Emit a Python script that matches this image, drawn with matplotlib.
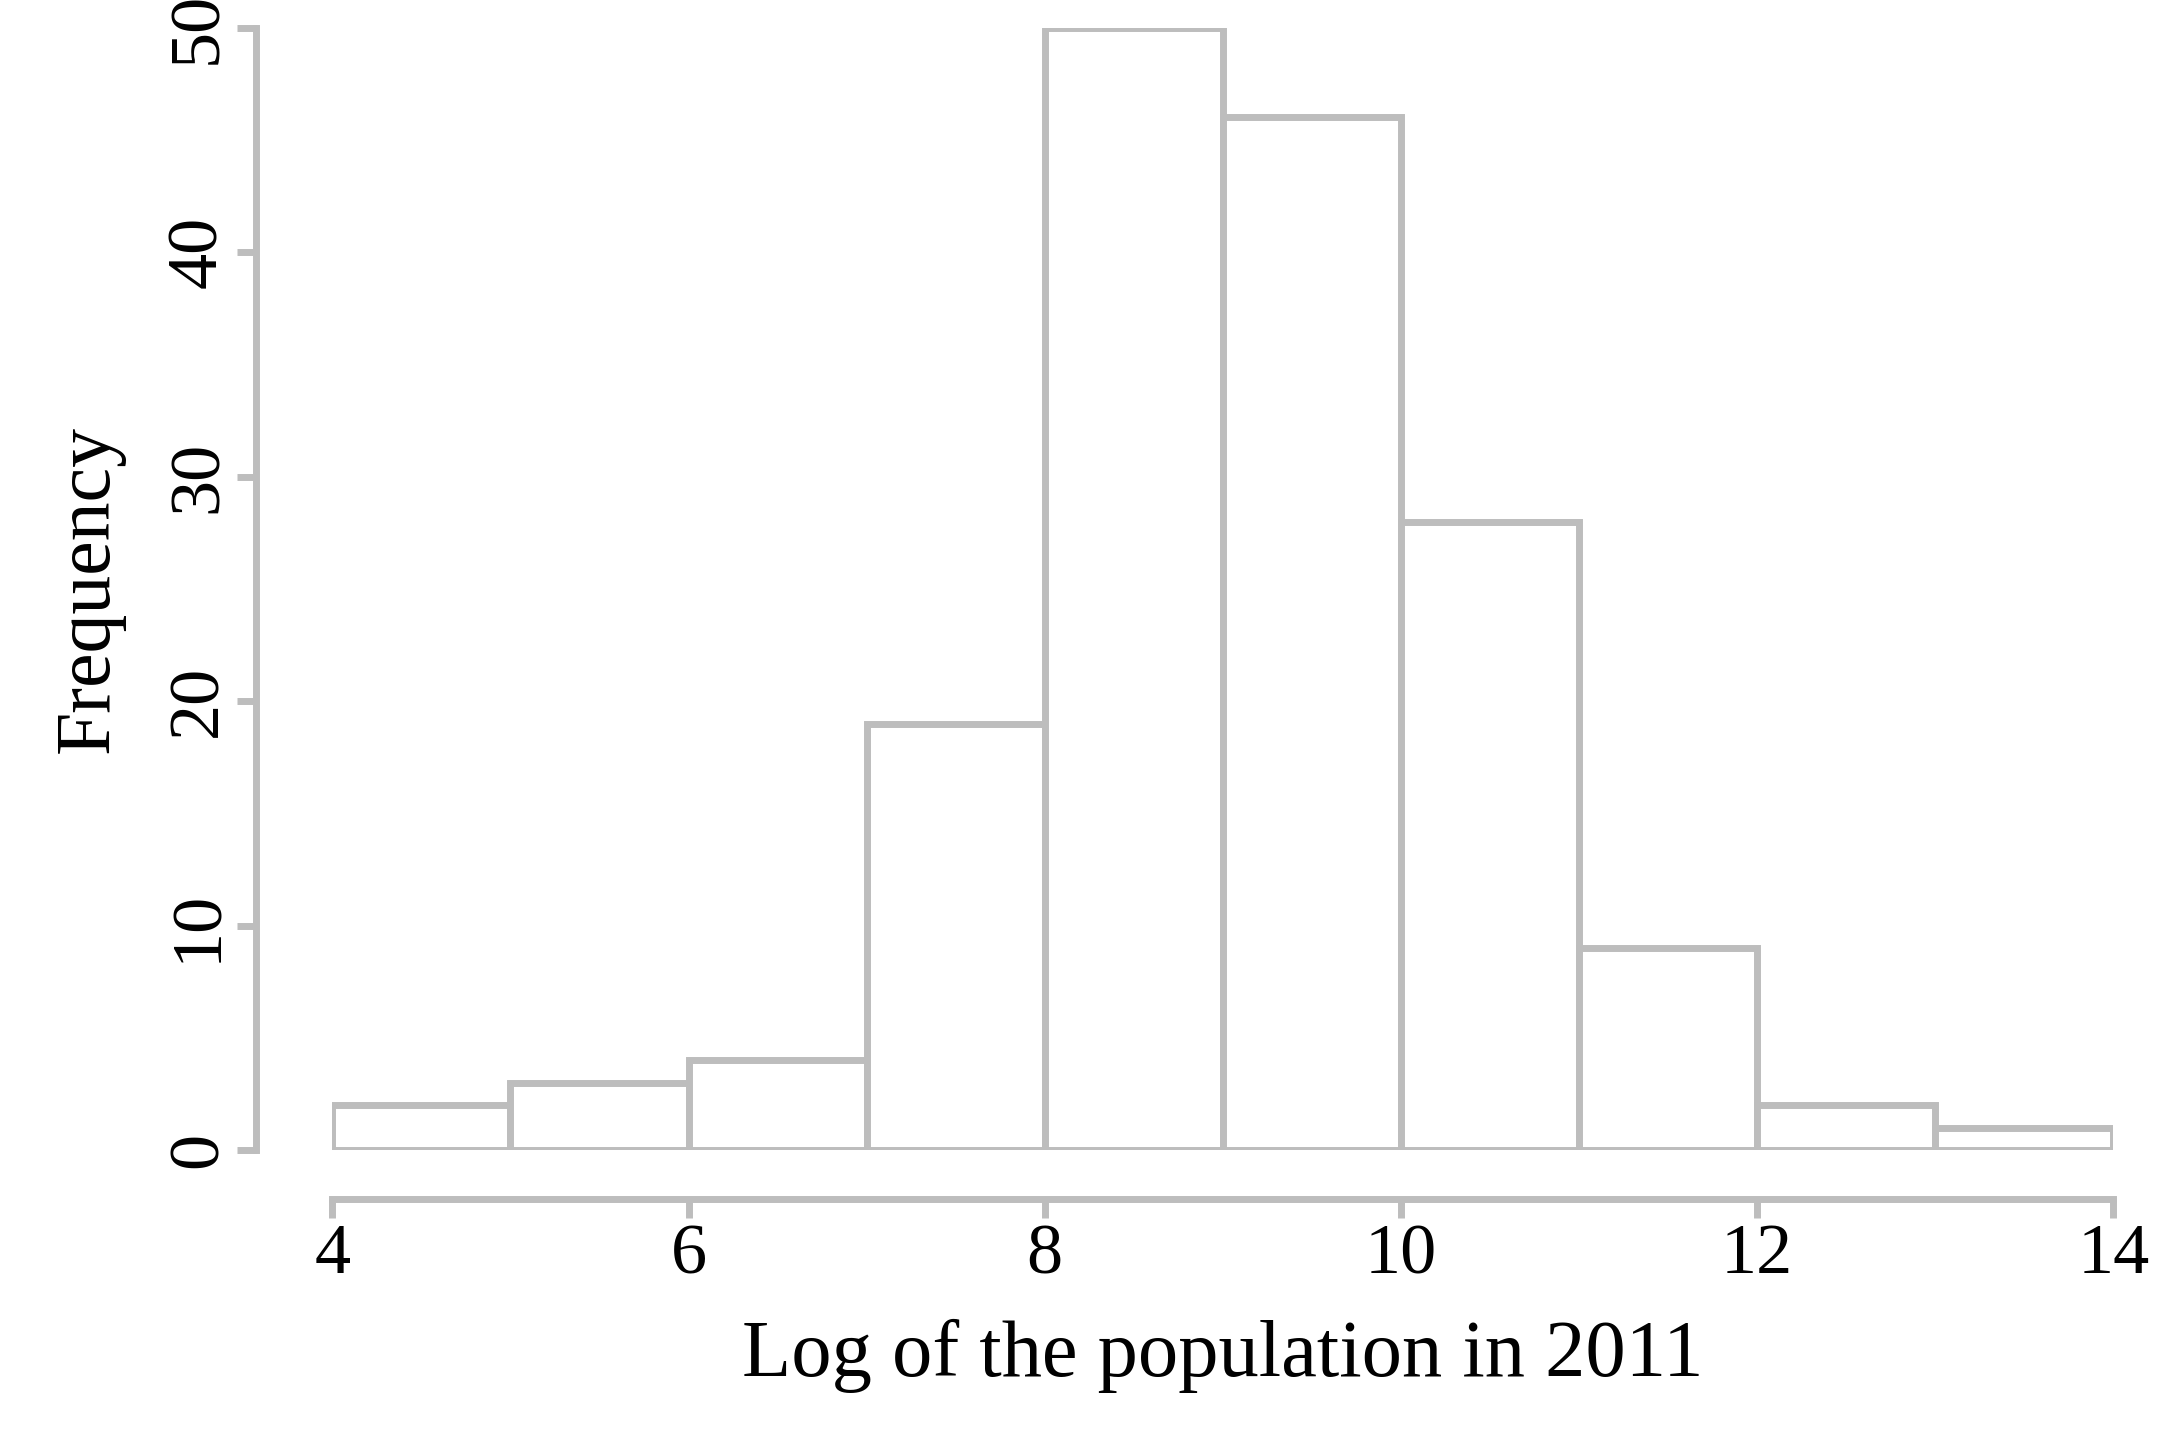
import matplotlib
matplotlib.use('Agg')
import matplotlib.pyplot as plt

bin_edges = [4, 5, 6, 7, 8, 9, 10, 11, 12, 13, 14]
counts = [2, 3, 4, 19, 50, 46, 28, 9, 2, 1]
x_ticks = [4, 6, 8, 10, 12, 14]
y_ticks = [0, 10, 20, 30, 40, 50]

grey = '#bdbdbd'
plt.rcParams['font.family'] = ['Liberation Serif', 'DejaVu Serif']

fig = plt.figure(figsize=(21.72, 14.56), dpi=100)
ax = fig.add_axes([0.153, 0.21, 0.82, 0.771])

ax.bar(bin_edges[:-1], counts, width=1, align='edge', facecolor='white',
       edgecolor=grey, linewidth=5)

ax.set_xlim(4, 14)
ax.set_ylim(0, 50)
for s in ['top', 'right']:
    ax.spines[s].set_visible(False)
ax.spines['bottom'].set_position(('outward', 35))
ax.spines['left'].set_position(('outward', 55))
ax.spines['bottom'].set_bounds(4, 14)
ax.spines['left'].set_bounds(0, 50)
for s in ['bottom', 'left']:
    ax.spines[s].set_color(grey)
    ax.spines[s].set_linewidth(5)

ax.set_xticks(x_ticks)
ax.set_yticks(y_ticks)
ax.tick_params(colors=grey, width=5, length=14, labelsize=52, labelcolor='black')
for lab in ax.get_yticklabels():
    lab.set_rotation(90)
    lab.set_va('center')

ax.set_xlabel('Log of the population in 2011', fontsize=58, labelpad=22)
ax.set_ylabel('Frequency', fontsize=56, labelpad=30)

fig.savefig('out.png', dpi=100)
